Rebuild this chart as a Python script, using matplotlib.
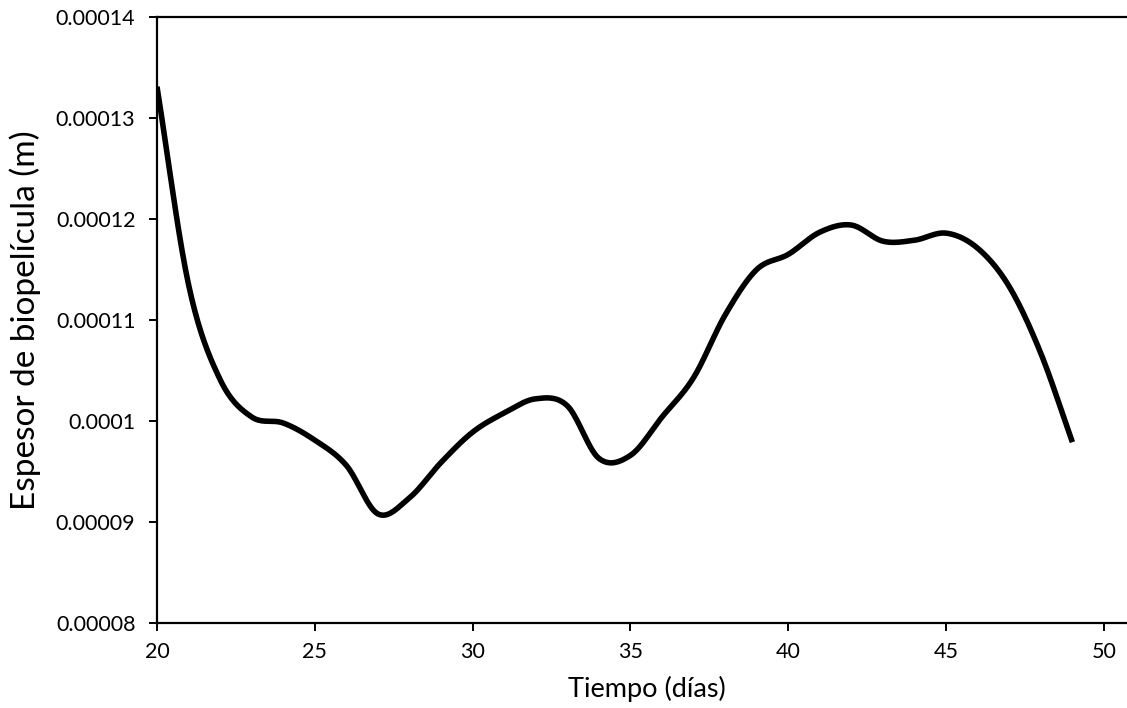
import numpy as np
import matplotlib.pyplot as plt

# datos
dias = [20, 21, 22, 23, 24, 25, 26, 27, 28, 29, 30, 31, 32, 33, 34, 35,
        36, 37, 38, 39, 40, 41, 42, 43, 44, 45, 46, 47, 48, 49]
espesor = [0.0001331, 0.0001135, 0.0001041, 0.0001004, 0.0000998, 0.0000981,
           0.0000956, 0.0000908, 0.0000924, 0.0000959, 0.0000989, 0.0001008,
           0.0001022, 0.0001015, 0.0000963, 0.0000966, 0.0001004, 0.0001043,
           0.0001105, 0.0001150, 0.0001165, 0.0001187, 0.0001194, 0.0001178,
           0.0001179, 0.0001186, 0.0001171, 0.0001133, 0.0001067, 0.0000979]

yticks = [0.00008, 0.00009, 0.0001, 0.00011, 0.00012, 0.00013, 0.00014]
ytick_labels = ['0.00008', '0.00009', '0.0001', '0.00011', '0.00012', '0.00013', '0.00014']
xticks = [20, 25, 30, 35, 40, 45, 50]


def suavizar(x, y, n=20):
    # curva suavizada tipo Excel (Catmull-Rom)
    x = np.asarray(x, float)
    y = np.asarray(y, float)
    px = np.concatenate(([2 * x[0] - x[1]], x, [2 * x[-1] - x[-2]]))
    py = np.concatenate(([2 * y[0] - y[1]], y, [2 * y[-1] - y[-2]]))
    xs, ys = [], []
    t = np.linspace(0, 1, n, endpoint=False)
    for i in range(1, len(px) - 2):
        for p, out in ((px, xs), (py, ys)):
            p0, p1, p2, p3 = p[i - 1], p[i], p[i + 1], p[i + 2]
            out.extend(0.5 * (2 * p1 + (-p0 + p2) * t
                              + (2 * p0 - 5 * p1 + 4 * p2 - p3) * t ** 2
                              + (-p0 + 3 * p1 - 3 * p2 + p3) * t ** 3))
    xs.append(x[-1])
    ys.append(y[-1])
    return np.array(xs), np.array(ys)


plt.rcParams['font.family'] = ['Lato', 'DejaVu Sans']

fig = plt.figure(figsize=(11.27, 7.08), dpi=100)
ax = fig.add_axes([157 / 1127, 1 - 623 / 708, 1 - 157 / 1127, (623 - 17) / 708])

xs, ys = suavizar(dias, espesor)
ax.plot(xs, ys, color='black', lw=4.0, solid_capstyle='butt')

ax.set_xlim(20, 50.73)
ax.set_ylim(0.00008, 0.00014)
ax.set_xticks(xticks)
ax.set_yticks(yticks)
ax.set_yticklabels(ytick_labels)
ax.tick_params(direction='out', length=5.5, width=1.4, labelsize=15.5, colors='black')
ax.tick_params(axis='x', pad=8)
ax.tick_params(axis='y', pad=10)

for s in ['left', 'bottom', 'top']:
    ax.spines[s].set_linewidth(1.6)
ax.spines['right'].set_visible(False)

fig.text(647 / 1127, 1 - 689 / 708, 'Tiempo (días)', fontsize=19.5,
         ha='center', va='center')
fig.text(25 / 1127, 1 - 320 / 708, 'Espesor de biopelícula (m)', fontsize=24,
         rotation=90, ha='center', va='center')

fig.savefig('out.png', dpi=100)
